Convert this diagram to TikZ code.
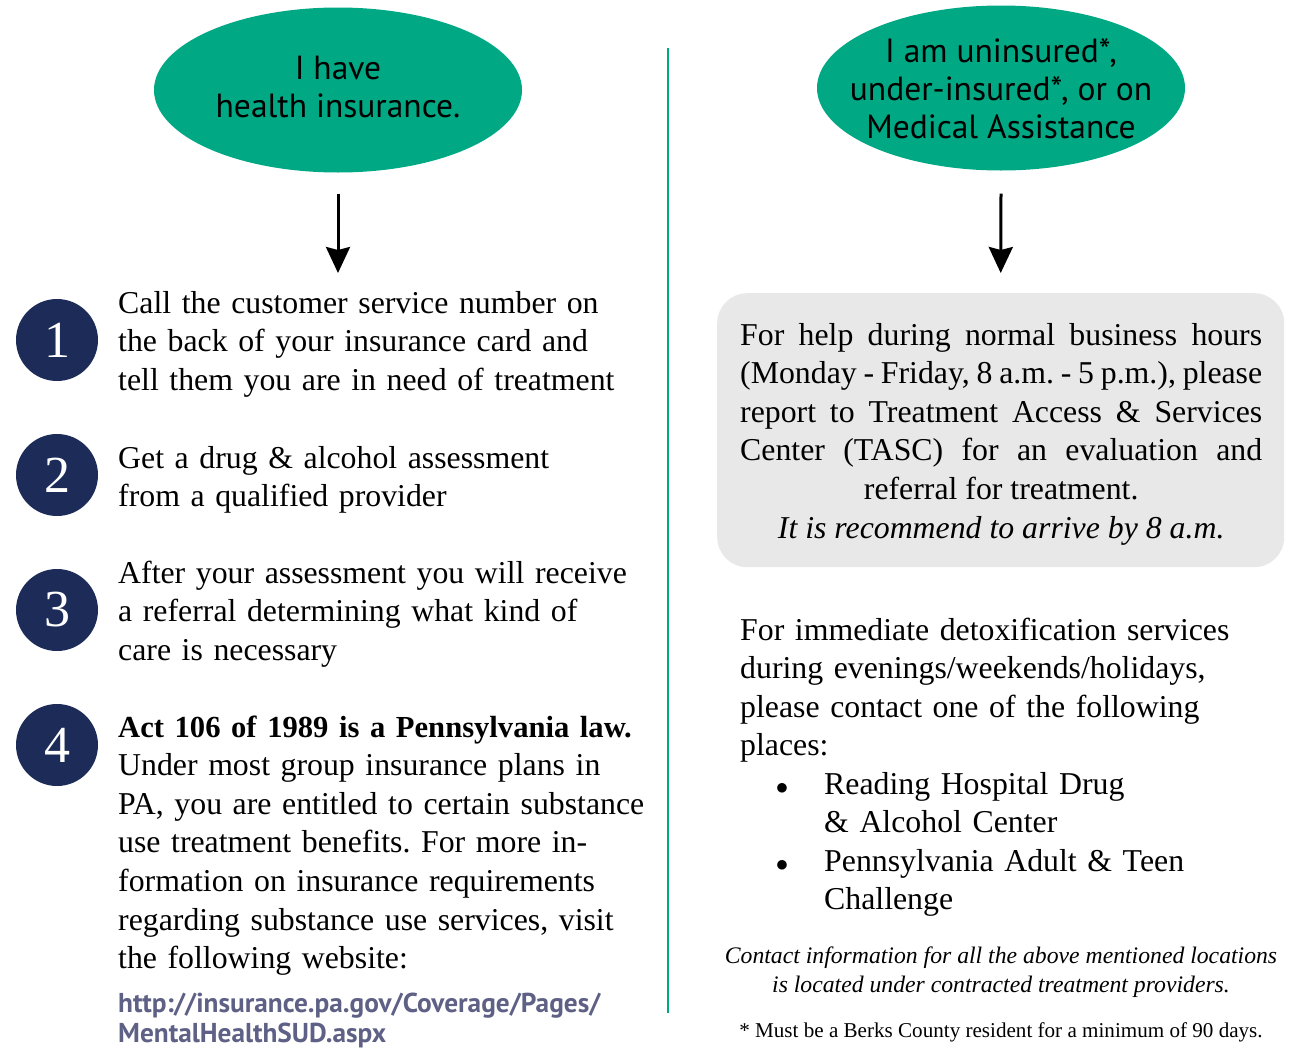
\documentclass[tikz,border=0pt]{standalone}
\usepackage{fontspec}
\setmainfont{Liberation Serif}
\newfontfamily\sansf{PT Sans}
\usetikzlibrary{shapes.geometric,arrows.meta}
\definecolor{tealgreen}{RGB}{0,168,132}
\definecolor{navy}{RGB}{28,43,88}
\definecolor{boxgray}{RGB}{232,232,232}
\definecolor{urlblue}{RGB}{94,96,133}
\newcommand\bodyfont{\fontsize{31.8}{38.6}\selectfont\frenchspacing}
\tikzset{
  choice/.style={ellipse,fill=tealgreen,minimum width=368pt,minimum height=165pt,inner sep=0pt},
  choicetext/.style={align=center,inner sep=0pt,font=\sansf\fontsize{33.5}{38}\selectfont},
  num/.style={circle,fill=navy,minimum size=82pt,inner sep=0pt,text=white,
    font=\fontsize{52}{52}\selectfont},
  para/.style={anchor=base west,inner sep=0pt,text width=560pt,align=left,font=\bodyfont},
  flow/.style={line width=3pt,-{Stealth[length=26pt,width=24pt,inset=3pt]}}
}
\begin{document}
\begin{tikzpicture}[x=1pt,y=-1pt]
	\useasboundingbox (0,0) rectangle (1293,1047);
	
	% the two starting questions
	\node[choice] (ins) at (338,90) {};
	\node[choicetext] (insT) at (338,87) {I have\\health insurance.};
	\node[choice] (uni) at (1001,88) {};
	\node[choicetext] (uniT) at (1001,89) {I am uninsured*,\\under-insured*, or on\\Medical Assistance};
	
	\draw[tealgreen,line width=2pt] (668,48) -- (668,1013);
	
	% left column: numbered steps
	\foreach \n/\y in {1/340,2/475,3/610,4/745}
		\node[num] (n\n) at (57,\y) {\n};
	
	\node[para] (step1) at (118,313) {Call the customer service number on\\
		the back of your insurance card and\\tell them you are in need of treatment};
	\node[para] (step2) at (118,468) {Get a drug \& alcohol assessment\\from a qualified provider};
	\node[para] (step3) at (118,583) {After your assessment you will receive\\
		a referral determining what kind of\\care is necessary};
	\node[para] (step4) at (118,737) {{\bfseries\fontsize{30.6}{38.6}\selectfont Act 106 of 1989 is a Pennsylvania law.}\\
		Under most group insurance plans in\\PA, you are entitled to certain substance\\
		use treatment benefits. For more in-\\formation on insurance requirements\\
		regarding substance use services, visit\\the following website:};
	\node[para,text=urlblue,font=\sansf\bfseries\fontsize{27.3}{30}\selectfont] (url) at (118,1012)
		{http://insurance.pa.gov/Coverage/Pages/\\MentalHealthSUD.aspx};
	
	\draw[flow] (ins.south) ++(0,21) coordinate (insA) (insA) -- (338,273) coordinate (insB);
	
	% right column
	\node[fill=boxgray,rounded corners=30pt,minimum width=567pt,minimum height=274pt,
		anchor=north west,inner sep=0pt] (tascbox) at (717,293) {};
	\node[anchor=base west,inner sep=0pt,text width=522pt,align=justify,font=\bodyfont] (tasc) at (740,345)
		{For help during normal business hours\linebreak
		(Monday - Friday, 8 a.m. - 5 p.m.), please\linebreak
		report to Treatment Access \& Services\linebreak
		Center (TASC) for an evaluation and{\parfillskip=0pt\par}
		\centering referral for treatment.\\ \textit{It is recommend to arrive by 8 a.m.}\par};
	
	\draw[flow] (uni.south) ++(0,23) coordinate (uniA) (uniA) -- (tascbox.north |- 0,273) coordinate (uniB);
	
	\node[para] (detox) at (740,640) {For immediate detoxification services\\
		during evenings/weekends/holidays,\\please contact one of the following\\places:};
	\node[para] (place1) at (824,794) {Reading Hospital Drug\\\& Alcohol Center};
	\node[para] (place2) at (824,871) {Pennsylvania Adult \& Teen\\Challenge};
	\foreach \p in {place1,place2}
		\node[anchor=base,inner sep=0pt,font=\bodyfont] (b\p) at ([xshift=-42pt]\p.base west) {$\bullet$};
	
	\node[anchor=base,inner sep=0pt,align=center,font=\itshape\fontsize{23.7}{29}\selectfont] (note) at (1001,992)
		{Contact information for all the above mentioned locations\\is located under contracted treatment providers.};
	\node[anchor=base,inner sep=0pt,font=\fontsize{21.1}{22}\selectfont] (foot) at (1001,1037)
		{* Must be a Berks County resident for a minimum of 90 days.};
\end{tikzpicture}
\end{document}
